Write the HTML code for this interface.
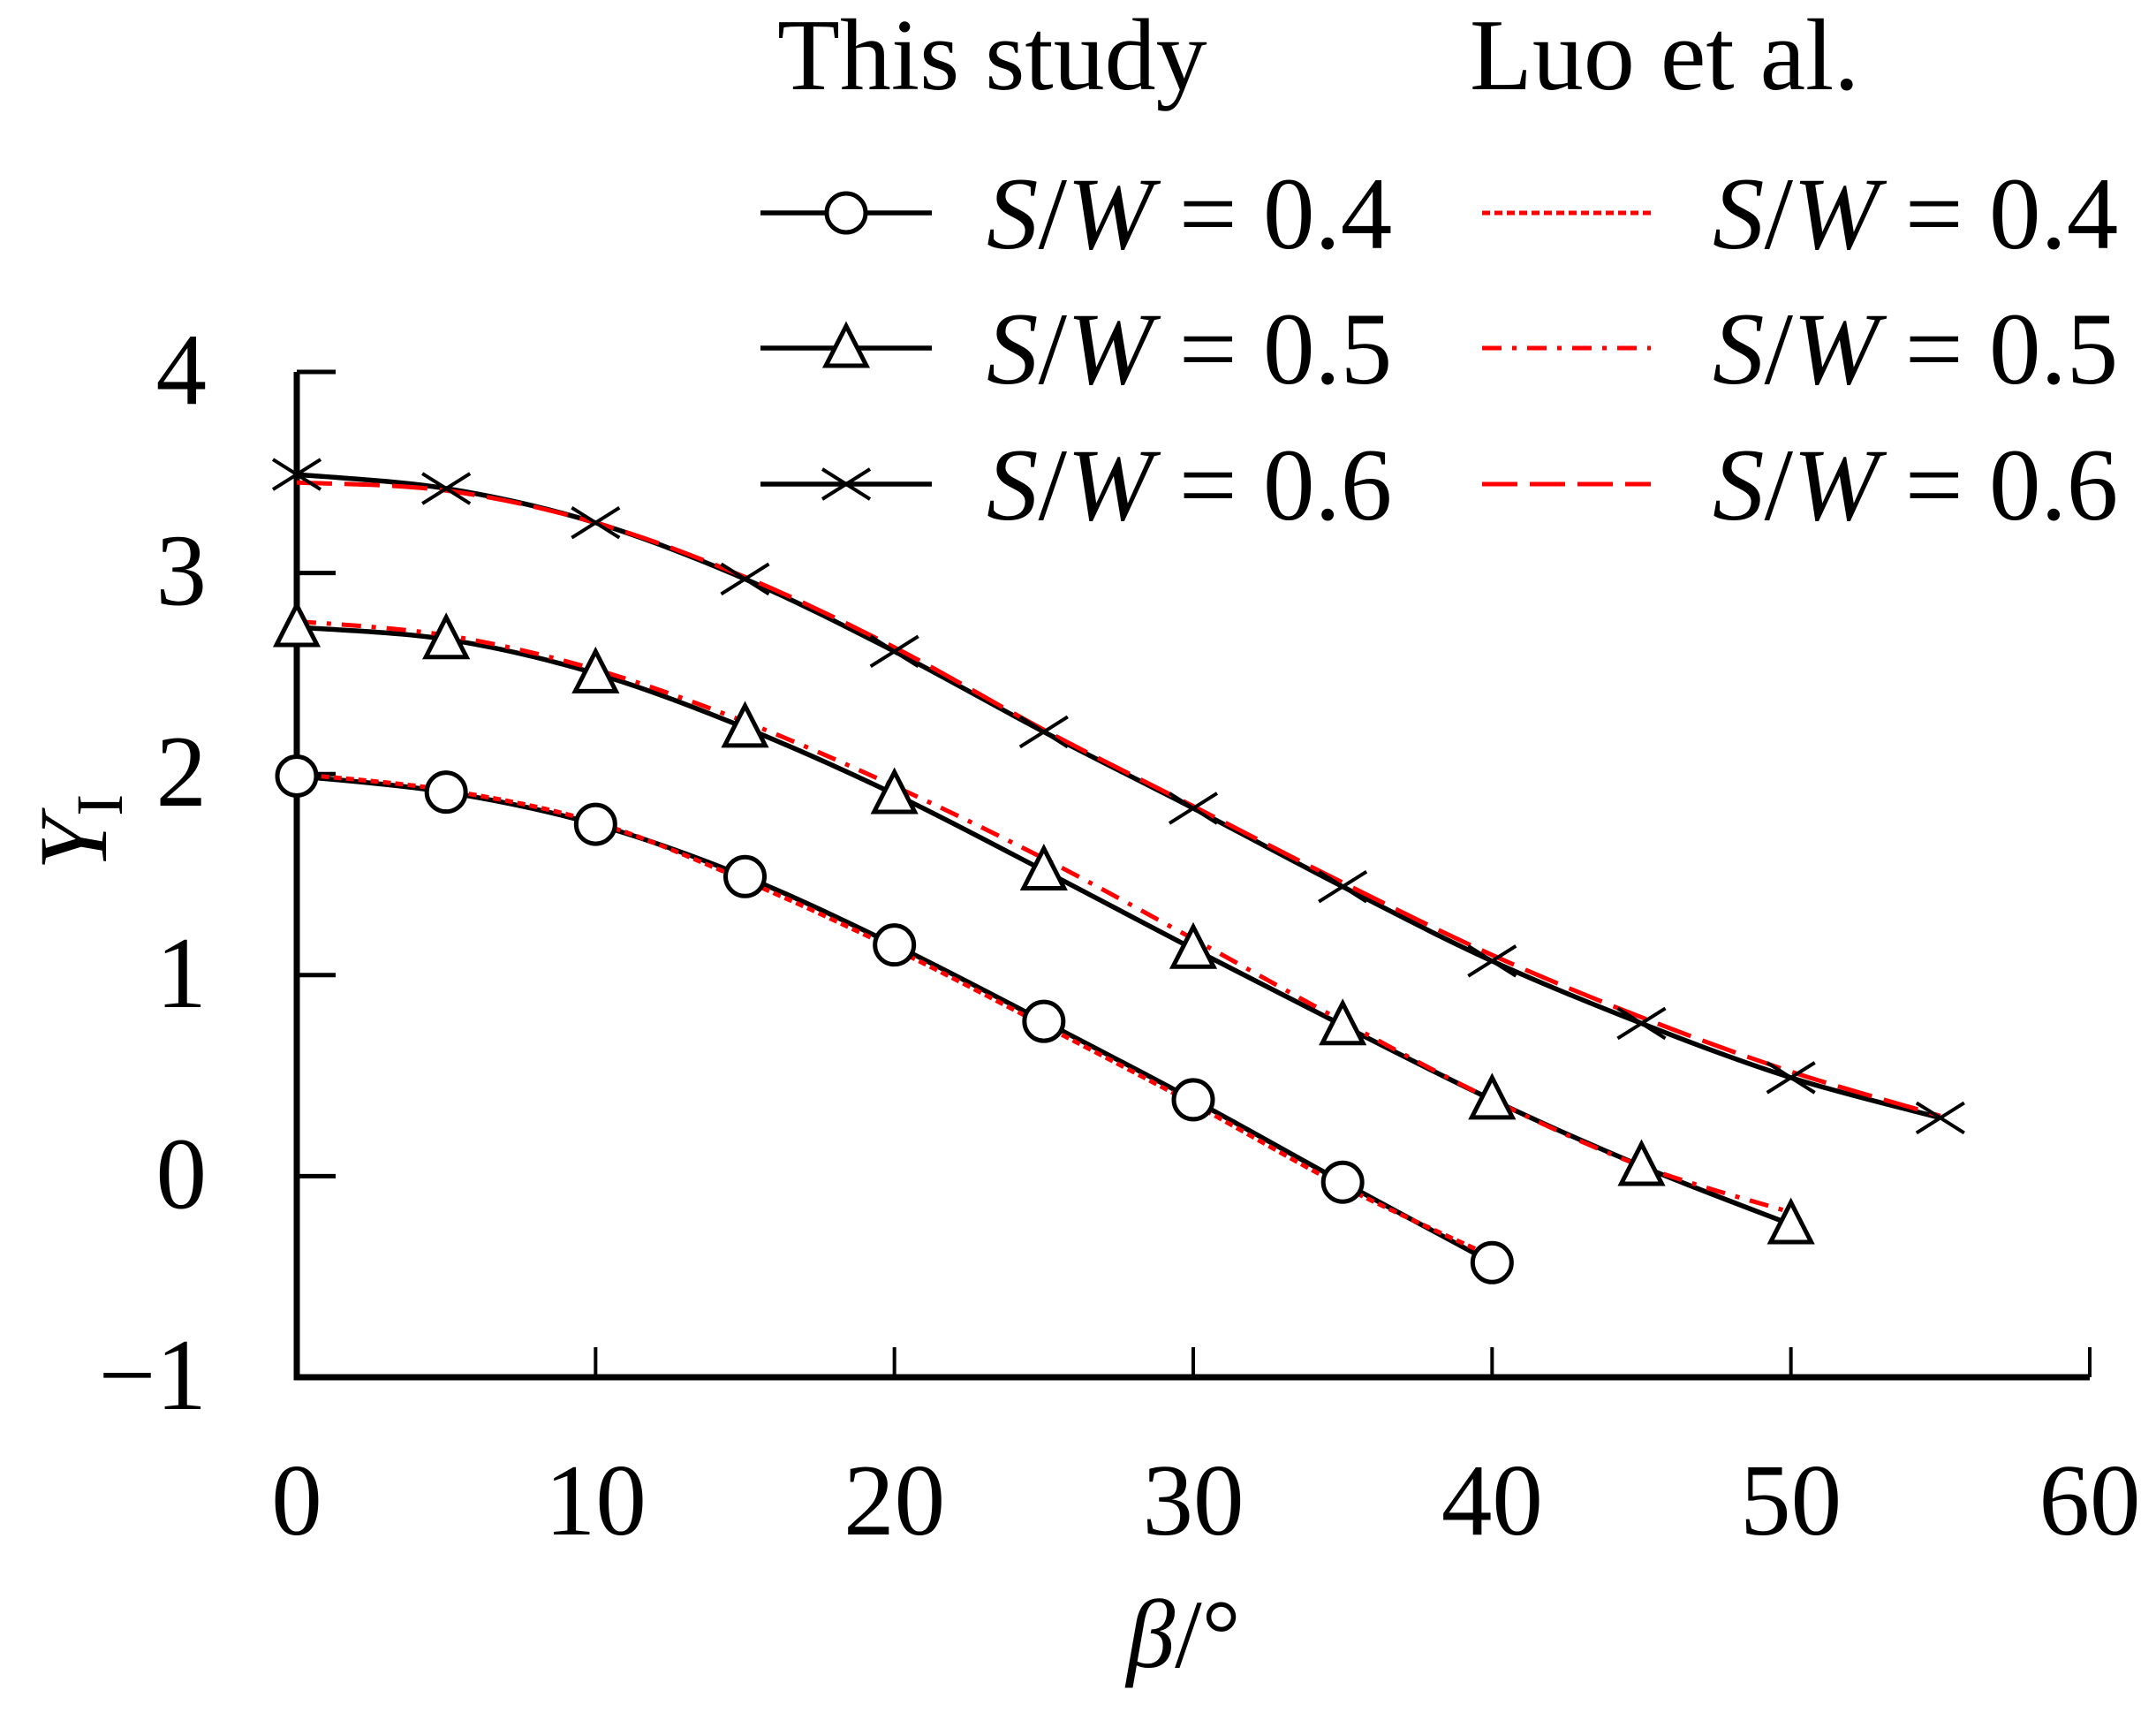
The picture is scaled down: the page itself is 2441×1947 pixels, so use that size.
<!DOCTYPE html>
<html><head><meta charset="utf-8"><style>
html,body{margin:0;padding:0;background:#fff;}
svg{display:block;font-family:"Liberation Serif",serif;}
</style></head><body>
<svg id="chart" width="2441" height="1947" viewBox="0 0 2441 1947" xmlns="http://www.w3.org/2000/svg">
<g id="axes"></g>
<g id="series"></g>
<g id="legend">
  <text x="880" y="101" font-size="116">This study</text>
  <text x="1664" y="101" font-size="116">Luo et al.</text>
</g>
<text x="1340" y="1887" font-size="110" text-anchor="middle" font-style="italic">β<tspan font-style="normal">/°</tspan></text>
<text transform="translate(120,942) rotate(-90)" font-size="110" text-anchor="middle" font-style="italic">Y<tspan font-style="normal" font-size="75" dy="18">I</tspan></text>
</svg>
<script>
const xTicks = [0,10,20,30,40,50,60];
const yTicks = [-1,0,1,2,3,4];
const xTickLabels = ["0","10","20","30","40","50","60"];
const yTickLabels = ["\u22121","0","1","2","3","4"];
const beta04 = [0,5,10,15,20,25,30,35,40];
const study04 = [1.99,1.91,1.75,1.49,1.15,0.77,0.38,-0.03,-0.43];
const luo04 = [2.00,1.92,1.76,1.47,1.13,0.75,0.36,-0.05,-0.40];
const beta05 = [0,5,10,15,20,25,30,35,40,45,50];
const study05 = [2.73,2.67,2.50,2.23,1.90,1.52,1.13,0.75,0.38,0.05,-0.24];
const luo05 = [2.76,2.69,2.52,2.26,1.94,1.58,1.18,0.77,0.38,0.05,-0.18];
const beta06 = [0,5,10,15,20,25,30,35,40,45,50,55];
const study06 = [3.49,3.42,3.25,2.97,2.61,2.21,1.83,1.44,1.07,0.76,0.49,0.29];
const luo06 = [3.45,3.41,3.25,2.98,2.63,2.22,1.84,1.46,1.10,0.79,0.52,0.30];

const NS='http://www.w3.org/2000/svg';
const X0=336, X1=2366, Y0=1559, Y1=421;
function sx(v){return X0+(v-0)/(60-0)*(X1-X0);}
function sy(v){return Y0-(v-(-1))/(4-(-1))*(Y0-Y1);}
function mk(tag,attrs,parent){const e=document.createElementNS(NS,tag);for(const k in attrs)e.setAttribute(k,attrs[k]);parent.appendChild(e);return e;}
const axes=document.getElementById('axes'), series=document.getElementById('series'), legend=document.getElementById('legend');

let a=mk('path',{d:`M${X0},${Y1} V${Y0} H${X1}`,fill:'none',stroke:'#000','stroke-width':7},axes);


yTicks.forEach((v,i)=>{
  const t=mk('line',{x1:X0,x2:X0+44,y1:sy(v),y2:sy(v),stroke:'#000','stroke-width':5},axes);
  
  
  const l=mk('text',{x:234,y:sy(v)+36,'font-size':115,'text-anchor':'end'},axes);
  l.textContent=yTickLabels[i];
  
  
});
xTicks.forEach((v,i)=>{
  const t=mk('line',{x1:sx(v),x2:sx(v),y1:Y0,y2:Y0-34,stroke:'#000','stroke-width':4},axes);
  
  
  const l=mk('text',{x:sx(v),y:1737,'font-size':115,'text-anchor':'middle'},axes);
  l.textContent=xTickLabels[i];
  
  
});

function smooth(xs,ys){
  const p=xs.map((x,i)=>[sx(x),sy(ys[i])]);
  let d=`M${p[0][0]},${p[0][1]}`;
  for(let i=0;i<p.length-1;i++){
    const p0=p[Math.max(i-1,0)],p1=p[i],p2=p[i+1],p3=p[Math.min(i+2,p.length-1)];
    const c1=[p1[0]+(p2[0]-p0[0])/6,p1[1]+(p2[1]-p0[1])/6];
    const c2=[p2[0]-(p3[0]-p1[0])/6,p2[1]-(p3[1]-p1[1])/6];
    d+=` C${c1[0]},${c1[1]} ${c2[0]},${c2[1]} ${p2[0]},${p2[1]}`;
  }
  return d;
}
function marker(type,x,y,parent){
  let e;
  if(type==='circle') e=mk('circle',{cx:x,cy:y,r:22,fill:'#fff',stroke:'#000','stroke-width':5},parent);
  else if(type==='tri') e=mk('path',{d:`M${x},${y-25} L${x+23},${y+20} L${x-23},${y+20} Z`,fill:'#fff',stroke:'#000','stroke-width':5},parent);
  else e=mk('path',{d:`M${x-27},${y-17} L${x+27},${y+17} M${x-27},${y+17} L${x+27},${y-17}`,fill:'none',stroke:'#000','stroke-width':4},parent);
  return e;
}
const defs=[
 {xs:beta04,s:study04,l:luo04,m:'circle',dash:'9 5',n:'0.4'},
 {xs:beta05,s:study05,l:luo05,m:'tri',dash:'22 12 5 12',n:'0.5'},
 {xs:beta06,s:study06,l:luo06,m:'x',dash:'40 14',n:'0.6'}
];
defs.forEach(d=>{
  const g=mk('g',{},series);
  
  
  const ls=mk('path',{d:smooth(d.xs,d.s),fill:'none',stroke:'#000','stroke-width':5.5},g);
  
  
  const lr=mk('path',{d:smooth(d.xs,d.l),fill:'none',stroke:'#ff0000','stroke-width':5,'stroke-dasharray':d.dash},g);
  
  
  d.xs.forEach((x,i)=>{
    const e=marker(d.m,sx(x),sy(d.s[i]),g);
    
    
  });
});
const rowsY=[241,394,548];
defs.forEach((d,i)=>{
  const y=rowsY[i];
  const g=mk('g',{},legend);
  
  
  mk('line',{x1:861,x2:1055,y1:y,y2:y,stroke:'#000','stroke-width':5.5},g);
  marker(d.m,958,y,g);
  const t=mk('text',{x:1117,y:y+40,'font-size':117},g);
  t.innerHTML='<tspan font-style="italic">S</tspan>/<tspan font-style="italic">W</tspan> = 0.'+d.n.slice(2);
  const g2=mk('g',{},legend);
  
  
  mk('line',{x1:1678,x2:1869,y1:y,y2:y,stroke:'#ff0000','stroke-width':5,'stroke-dasharray':d.dash},g2);
  const t2=mk('text',{x:1939,y:y+40,'font-size':117},g2);
  t2.innerHTML='<tspan font-style="italic">S</tspan>/<tspan font-style="italic">W</tspan> = 0.'+d.n.slice(2);
});
</script>
</body></html>
